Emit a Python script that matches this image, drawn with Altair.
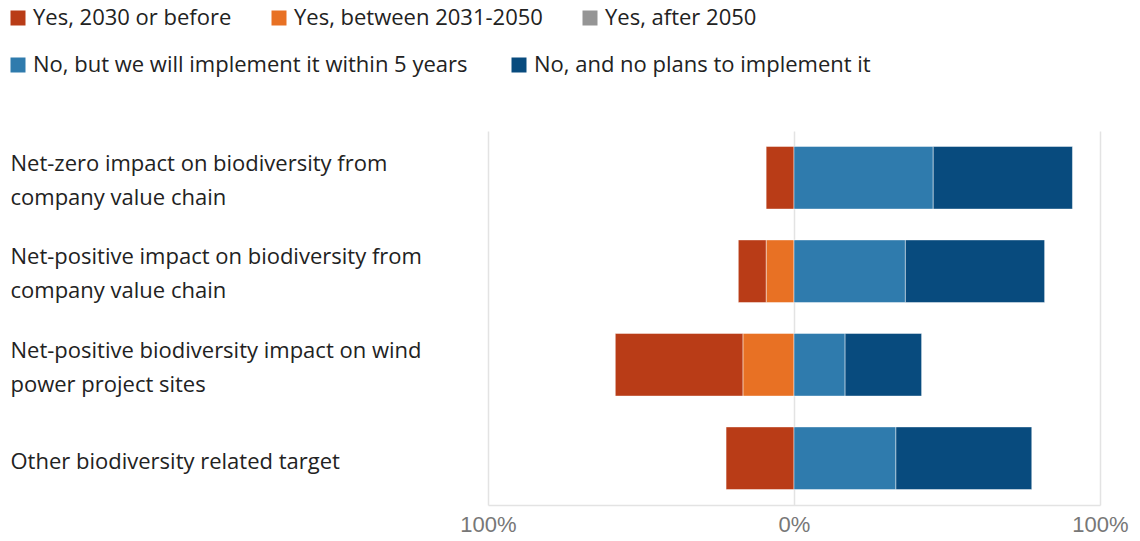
import altair as alt
import pandas as pd

categories = [
    "Net-zero impact on biodiversity from|company value chain",
    "Net-positive impact on biodiversity from|company value chain",
    "Net-positive biodiversity impact on wind|power project sites",
    "Other biodiversity related target",
]
yes_2030 = [9.1, 9.1, 41.7, 22.2]
yes_2031_2050 = [0.0, 9.1, 16.7, 0.0]
yes_after_2050 = [0.0, 0.0, 0.0, 0.0]
no_within5 = [45.5, 36.4, 16.7, 33.3]
no_plans = [45.5, 45.5, 25.0, 44.4]

yes_names = ["Yes, 2030 or before", "Yes, between 2031-2050", "Yes, after 2050"]
no_names = ["No, but we will implement it within 5 years", "No, and no plans to implement it"]
yes_colors = ["#B93C17", "#E87124", "#959595"]
no_colors = ["#2F7BAD", "#084B7E"]

rows_yes, rows_no = [], []
for i, c in enumerate(categories):
    o, g, r = yes_2031_2050[i], yes_after_2050[i], yes_2030[i]
    segs = [(yes_names[1], -o, 0), (yes_names[2], -(o + g), -o), (yes_names[0], -(o + g + r), -(o + g))]
    for name, s, e in segs:
        if e - s > 0:
            rows_yes.append({"cat": c, "resp": name, "start": s, "end": e, "val": e - s})
    lb, db = no_within5[i], no_plans[i]
    for name, s, e in [(no_names[0], 0, lb), (no_names[1], lb, lb + db)]:
        if e - s > 0:
            rows_no.append({"cat": c, "resp": name, "start": s, "end": e, "val": e - s})

df_yes = pd.DataFrame(rows_yes)
df_no = pd.DataFrame(rows_no)

FONT = "Open Sans"
LFS = 22

y_enc = alt.Y(
    "cat:N",
    sort=categories,
    scale=alt.Scale(domain=categories, paddingInner=0.33, paddingOuter=0.165),
    axis=alt.Axis(
        title=None,
        ticks=False,
        domain=False,
        labelAlign="left",
        labelBaseline="middle",
        labelPadding=478,
        labelLimit=0,
        labelExpr="split(datum.label, '|')",
        labelOffset={"condition": {"test": "indexof(datum.value, '|') >= 0", "value": -14}, "value": 4},
        labelFont=FONT,
        labelFontSize=LFS,
        labelLineHeight=34,
        labelColor="#222222",
    ),
)

x_enc = alt.X(
    "start:Q",
    scale=alt.Scale(domain=[-100, 100], nice=False),
    axis=alt.Axis(
        title=None,
        values=[-100, 0, 100],
        labelExpr="abs(datum.value) + '%'",
        labelFlush=False,
        ticks=False,
        grid=True,
        gridColor="#e3e3e3",
        gridWidth=1.5,
        domainColor="#e3e3e3",
        domainWidth=1.5,
        labelFont="Liberation Sans",
        labelFontSize=22,
        labelColor="#777777",
        labelPadding=9,
    ),
)

def legend(x, y, cols, colpad):
    return alt.Legend(
        title=None,
        orient="none",
        legendX=x,
        legendY=y,
        direction="horizontal",
        columns=cols,
        symbolType="square",
        symbolSize=225,
        symbolStrokeWidth=0,
        labelFont=FONT,
        labelFontSize=LFS,
        labelColor="#222222",
        labelLimit=0,
        labelOffset=4,
        columnPadding=colpad,
        padding=0,
    )

bar_style = dict(stroke="white", strokeWidth=1, strokeOpacity=0.45)

yes_layer = alt.Chart(df_yes).mark_bar(**bar_style).encode(
    y=y_enc,
    x=x_enc,
    x2="end:Q",
    color=alt.Color(
        "resp:N",
        scale=alt.Scale(domain=yes_names, range=yes_colors),
        legend=legend(-481, -124, 3, 36),
    ),
)

no_layer = alt.Chart(df_no).mark_bar(**bar_style).encode(
    y=y_enc,
    x=x_enc,
    x2="end:Q",
    color=alt.Color(
        "resp:N",
        scale=alt.Scale(domain=no_names, range=no_colors),
        legend=legend(-481, -77, 2, 40),
    ),
)

chart = (
    alt.layer(yes_layer, no_layer)
    .resolve_scale(color="independent")
    .properties(
        width=612,
        height=374,
        padding={"left": 488, "top": 131, "right": 40, "bottom": 36},
        autosize=alt.AutoSizeParams(type="none"),
        background="white",
    )
    .configure_view(stroke=None)
)

chart.save("out.html", embed_options={"renderer": "svg", "actions": False})
